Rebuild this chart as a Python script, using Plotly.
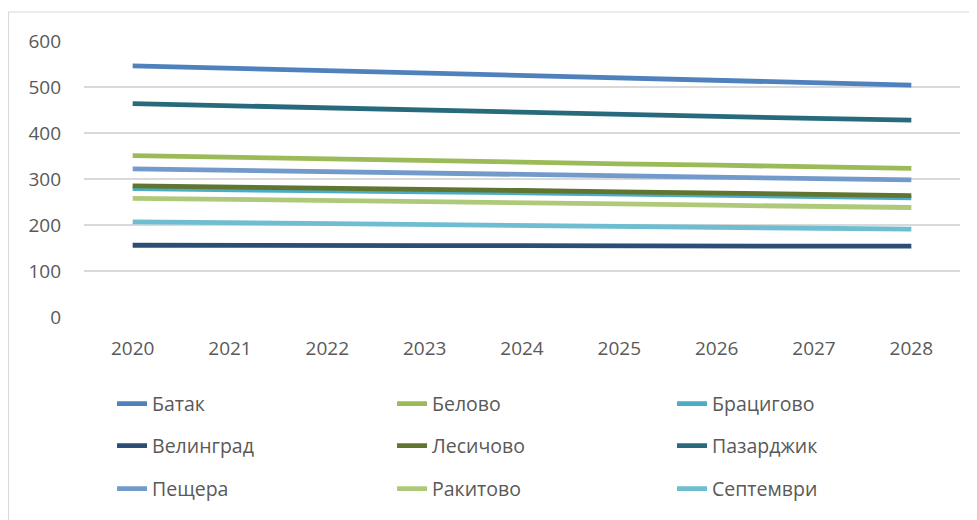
import plotly.graph_objects as go

years = ["2020", "2021", "2022", "2023", "2024", "2025", "2026", "2027", "2028"]

batak      = [546, 541, 535, 530, 526, 520, 515, 509, 504]
belovo     = [351, 347, 343, 341, 337, 333, 330, 326, 323]
bratsigovo = [279, 276, 273, 272, 270, 267, 264, 262, 259]
velingrad  = [156, 155, 155, 155, 155, 154, 154, 154, 154]
lesichovo  = [285, 283, 280, 277, 275, 272, 269, 266, 264]
pazardzhik = [464, 459, 454, 450, 445, 441, 436, 432, 428]
peshtera   = [322, 319, 316, 312, 310, 307, 304, 301, 298]
rakitovo   = [258, 256, 252, 250, 248, 246, 243, 241, 238]
septemvri  = [207, 205, 203, 201, 199, 196, 195, 193, 191]

names = ["Батак", "Белово", "Брацигово",
         "Велинград", "Лесичово", "Пазарджик",
         "Пещера", "Ракитово", "Септември"]
series = [batak, belovo, bratsigovo,
          velingrad, lesichovo, pazardzhik,
          peshtera, rakitovo, septemvri]
colors = ["#4F81BD", "#9BBB59", "#4BACC6",
          "#2C4D75", "#5F7530", "#276A7C",
          "#729ACA", "#AFC97A", "#6FBDD1"]
legend_ids = ["legend", "legend", "legend",
              "legend2", "legend2", "legend2",
              "legend3", "legend3", "legend3"]

FONT = "Open Sans"
GRAY = "#595959"
FS = 19

fig = go.Figure()
for n, s, c, lg in zip(names, series, colors, legend_ids):
    fig.add_trace(go.Scatter(x=years, y=s, name=n, mode="lines",
                             line=dict(color=c, width=4.8, shape="linear"),
                             legend=lg))

legend_common = dict(orientation="h", entrywidth=235, entrywidthmode="pixels",
                     font=dict(family=FONT, size=FS + 0.5, color=GRAY),
                     bgcolor="rgba(0,0,0,0)", x=0.032, xanchor="left",
                     yanchor="middle", traceorder="normal")

PW, PH = 876, 276  # plot area size in px
fig.update_layout(
    width=977, height=520,
    margin=dict(l=76, r=25, t=33, b=211, autoexpand=False),
    paper_bgcolor="white", plot_bgcolor="white",
    font=dict(family=FONT, size=FS, color=GRAY),
    legend=dict(**legend_common, y=-0.315),
    legend2=dict(**legend_common, y=-0.467),
    legend3=dict(**legend_common, y=-0.623),
    xaxis=dict(type="category", range=[-0.5, 8.5], showgrid=False,
               zeroline=False, showline=False,
               ticks="", tickfont=dict(family=FONT, size=FS, color=GRAY),
               ticklabelstandoff=18),
    yaxis=dict(range=[0, 600], tickvals=[0, 100, 200, 300, 400, 500, 600],
               showgrid=True, gridcolor="#D9D9D9", gridwidth=1.5,
               zeroline=False, showline=False, ticks="",
               tickfont=dict(family=FONT, size=FS, color=GRAY),
               ticklabelstandoff=22),
    shapes=[dict(type="rect", xref="paper", yref="paper",
                 x0=-75.5/PW, x1=(967-76)/PW, y0=-(540-309)/PH, y1=(309-4)/PH,
                 line=dict(color="#D9D9D9", width=1.2), fillcolor="rgba(0,0,0,0)",
                 layer="below")],
)

fig.write_html("out.html")
